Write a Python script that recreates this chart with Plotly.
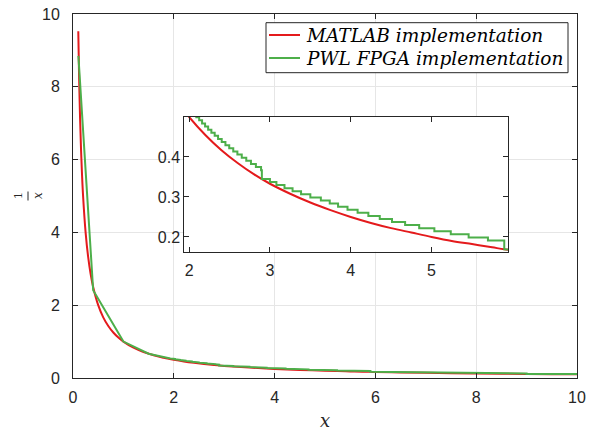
import plotly.graph_objects as go

# ---------------- data ----------------
red_x = [0.105, 0.12, 0.14, 0.16, 0.18, 0.2, 0.25, 0.3, 0.35, 0.4, 0.5, 0.6, 0.7, 0.8, 0.9,
         1.0, 1.2, 1.4, 1.6, 1.8, 1.9, 2.0, 2.2, 2.4, 2.6, 2.8, 3.0, 3.25, 3.5, 3.75, 4.0,
         4.25, 4.5, 4.75, 5.0, 5.25, 5.5, 5.75, 5.9, 6.0, 6.5, 7.0, 7.5, 8.0, 8.5, 9.0, 9.5, 10.0]
red_y = [9.524, 8.333, 7.143, 6.25, 5.556, 5.0, 4.0, 3.333, 2.857, 2.5, 2.0, 1.667, 1.429, 1.25, 1.111,
         1.0, 0.833, 0.714, 0.625, 0.556, 0.526, 0.5, 0.455, 0.417, 0.385, 0.357, 0.333, 0.308, 0.286, 0.267, 0.25,
         0.235, 0.222, 0.211, 0.2, 0.19, 0.182, 0.174, 0.169, 0.167, 0.154, 0.143, 0.133, 0.125, 0.118, 0.111, 0.105, 0.1]

# green: piecewise-linear head
g_head_x = [0.107, 0.4, 1.0, 1.5]
g_head_y = [8.85, 2.41, 1.0, 0.667]

# green: staircase segment 1 (step start x, level), ends at seg1_end
g_s1_x = [1.932, 1.962, 1.992, 2.023, 2.056, 2.089, 2.124, 2.160, 2.197, 2.235, 2.275, 2.316,
          2.358, 2.403, 2.449, 2.496, 2.546, 2.597, 2.651, 2.707, 2.765, 2.826, 2.890]
g_s1_y = [0.5386, 0.5308, 0.523, 0.5152, 0.5074, 0.4996, 0.4918, 0.484, 0.4762, 0.4684, 0.4606, 0.4528,
          0.445, 0.4372, 0.4294, 0.4216, 0.4138, 0.406, 0.3982, 0.3904, 0.3826, 0.3748, 0.367]
seg1_end = 2.9

# green: staircase segment 2
g_s2_x = [2.9, 3.0, 3.08, 3.18, 3.28, 3.385, 3.5, 3.63, 3.74, 3.843, 3.96, 4.085, 4.218, 4.359,
          4.511, 4.673, 4.847, 5.035, 5.238, 5.459, 5.698]
g_s2_y = [0.345, 0.3373, 0.3296, 0.3219, 0.3142, 0.3065, 0.2988, 0.2911, 0.2834, 0.2757, 0.268, 0.2603,
          0.2526, 0.2449, 0.2372, 0.2295, 0.2218, 0.2141, 0.2064, 0.1987, 0.191]
seg2_end = 5.9

# green: tail (linear pieces with small drops)
g_tail_x = [5.9, 7.0, 7.0, 9.0, 9.0, 10.0]
g_tail_y = [0.169, 0.157, 0.143, 0.127, 0.111, 0.108]

main_ticks = [0, 2, 4, 6, 8, 10]
inset_xticks = [2, 3, 4, 5]
inset_yticks = [0.2, 0.3, 0.4]
legend_names = ["MATLAB implementation", "PWL FPGA implementation"]

# ---------------- build green vertex list ----------------
def stairs(xs, ys, end):
    vx, vy = [], []
    for i in range(len(xs)):
        nx = xs[i + 1] if i + 1 < len(xs) else end
        vx += [xs[i], nx]
        vy += [ys[i], ys[i]]
    return vx, vy

gx, gy = list(g_head_x), list(g_head_y)
for xs, ys, e in [(g_s1_x, g_s1_y, seg1_end), (g_s2_x, g_s2_y, seg2_end)]:
    sx, sy = stairs(xs, ys, e)
    gx += sx
    gy += sy
gx += g_tail_x
gy += g_tail_y

RED = "#E41A1C"
GREEN = "#4DAF4A"
AX = "#262626"
FONT = "Liberation Sans"
SERIF = "DejaVu Serif"

# plot-area geometry (pixels)
W, H = 598, 430
L, R, T, B = 73, 21, 14, 52
PW, PH = W - L - R, H - T - B

def px(xp):
    return (xp - L) / PW

def py(yp):
    return (H - B - yp) / PH

fig = go.Figure()
fig.add_trace(go.Scatter(x=red_x, y=red_y, mode="lines", line=dict(color=RED, width=2, shape="spline"),
                         name=legend_names[0], showlegend=False))
fig.add_trace(go.Scatter(x=gx, y=gy, mode="lines", line=dict(color=GREEN, width=2),
                         name=legend_names[1], showlegend=False))
fig.add_trace(go.Scatter(x=red_x, y=red_y, mode="lines", line=dict(color=RED, width=2, shape="spline"),
                         xaxis="x2", yaxis="y2", showlegend=False))
fig.add_trace(go.Scatter(x=gx, y=gy, mode="lines", line=dict(color=GREEN, width=2),
                         xaxis="x2", yaxis="y2", showlegend=False))

axis_common = dict(showline=True, linecolor=AX, linewidth=1, mirror="ticks", ticks="inside",
                   ticklen=5, tickcolor=AX, zeroline=False,
                   tickfont=dict(family=FONT, size=16, color=AX))

fig.update_layout(
    width=W, height=H,
    margin=dict(l=L, r=R, t=T, b=B, autoexpand=False),
    paper_bgcolor="white", plot_bgcolor="white",
    xaxis=dict(range=[0, 10], tickvals=main_ticks, showgrid=True, gridcolor="#E6E6E6",
               domain=[0, 1], ticklabelstandoff=5, **axis_common),
    yaxis=dict(range=[0, 10], tickvals=main_ticks, showgrid=True, gridcolor="#E6E6E6",
               domain=[0, 1], ticklabelstandoff=9, **axis_common),
    xaxis2=dict(range=[1.94, 5.95], tickvals=inset_xticks, showgrid=False, anchor="y2",
                domain=[px(184.3), px(508.3)], ticklabelstandoff=4, **axis_common),
    yaxis2=dict(range=[0.163, 0.5], tickvals=inset_yticks, showgrid=False, anchor="x2",
                domain=[py(251.7), py(117)], ticklabelstandoff=0, **axis_common),
    showlegend=False,
)

# legend (drawn manually)
fig.add_shape(type="rect", xref="paper", yref="paper", x0=px(266), x1=px(568), y0=py(72.7), y1=py(22.7),
              fillcolor="white", line=dict(color=AX, width=1), layer="above")
for i, (col, name) in enumerate(zip([RED, GREEN], legend_names)):
    yc = 35 + 23 * i
    fig.add_shape(type="line", xref="paper", yref="paper", x0=px(269), x1=px(300), y0=py(yc), y1=py(yc),
                  line=dict(color=col, width=2), layer="above")
    fig.add_annotation(text="<i>" + name + "</i>", xref="paper", yref="paper", x=px(304), y=py(yc),
                       xanchor="left", yanchor="middle", showarrow=False,
                       font=dict(family=SERIF, size=18.5, color="black"))

# axis titles
fig.add_annotation(text="<i>x</i>", xref="paper", yref="paper", x=0.5, y=py(420),
                   xanchor="center", yanchor="middle",
                   showarrow=False, font=dict(family=SERIF, size=18, color=AX))
fig.add_annotation(text="1", xref="paper", yref="paper", x=px(18), y=py(196),
                   xanchor="center", yanchor="middle",
                   textangle=-90, showarrow=False, font=dict(family=SERIF, size=11, color=AX))
fig.add_annotation(text="<i>x</i>", xref="paper", yref="paper", x=px(38), y=py(196),
                   xanchor="center", yanchor="middle",
                   textangle=-90, showarrow=False, font=dict(family=SERIF, size=12, color=AX))
fig.add_shape(type="line", xref="paper", yref="paper",
              x0=px(28), x1=px(28), y0=py(200.5), y1=py(191.5),
              line=dict(color=AX, width=1))

fig.write_html("out.html", config={"displayModeBar": False})
with open("out.html", "r", encoding="utf-8") as f:
    html = f.read()
html = html.replace("<body>", "<body style=\"margin:0;padding:0;overflow:hidden;\">", 1)
with open("out.html", "w", encoding="utf-8") as f:
    f.write(html)
